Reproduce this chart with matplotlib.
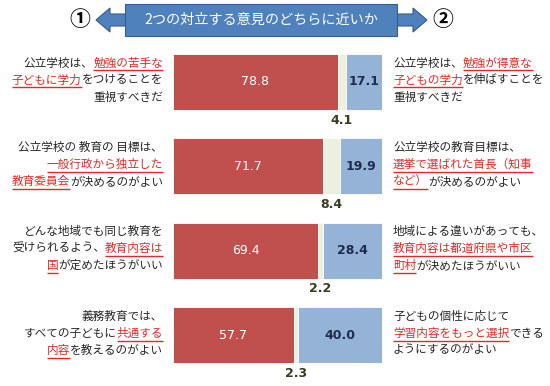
import matplotlib
matplotlib.use("Agg")
import matplotlib.pyplot as plt
from matplotlib.patches import Polygon, Rectangle

plt.rcParams['font.family'] = ['Noto Sans CJK JP', 'DejaVu Sans']

# ---------------- data ----------------
opt1 = [78.8, 71.7, 69.4, 57.7]
neutral = [4.1, 8.4, 2.2, 2.3]
opt2 = [17.1, 19.9, 28.4, 40.0]

title = "2つの対立する意見のどちらに近いか"

# each statement: list of lines, each line list of (text, highlighted)
left_text = [
    [[("公立学校は、", False), ("勉強の苦手な", True)],
     [("子どもに学力", True), ("をつけることを", False)],
     [("重視すべきだ", False)]],
    [[("公立学校の 教育の 目標は、", False)],
     [("一般行政から独立した", True)],
     [("教育委員会", True), ("が決めるのがよい", False)]],
    [[("どんな地域でも同じ教育を", False)],
     [("受けられるよう、", False), ("教育内容は", True)],
     [("国", True), ("が定めたほうがいい", False)]],
    [[("義務教育では、", False)],
     [("すべての子どもに", False), ("共通する", True)],
     [("内容", True), ("を教えるのがよい", False)]],
]
right_text = [
    [[("公立学校は、", False), ("勉強が得意な", True)],
     [("子どもの学力", True), ("を伸ばすことを", False)],
     [("重視すべきだ", False)]],
    [[("公立学校の教育目標は、", False)],
     [("選挙で選ばれた首長（知事", True)],
     [("など）", True), ("が決めるのがよい", False)]],
    [[("地域による違いがあっても、", False)],
     [("教育内容は都道府県や市区", True)],
     [("町村", True), ("が決めたほうがいい", False)]],
    [[("子どもの個性に応じて", False)],
     [("学習内容をもっと選択", True), ("できる", False)],
     [("ようにするのがよい", False)]],
]

# ---------------- styles ----------------
W, H = 550, 386
C_RED = '#C0504D'
C_MID = '#EBF1DE'
C_BLUE = '#95B3D7'
C_HL = '#E02A2A'
C_TXT = '#262626'
FS = 8.4

fig = plt.figure(figsize=(W / 100, H / 100), dpi=100)
fig.patch.set_facecolor('white')

# bar axes
ax = fig.add_axes([173 / W, 1 - 363 / H, 209 / W, 309 / H])
n = len(opt1)
ys = list(range(n))
bh = 0.664
ax.barh(ys, opt1, height=bh, color=C_RED, edgecolor='white', linewidth=0.6)
left2 = [a for a in opt1]
ax.barh(ys, neutral, left=left2, height=bh, color=C_MID, edgecolor='white', linewidth=0.6)
left3 = [a + b for a, b in zip(opt1, neutral)]
ax.barh(ys, opt2, left=left3, height=bh, color=C_BLUE, edgecolor='white', linewidth=0.6)
ax.set_xlim(0, 100)
ax.set_ylim(n - 1 + bh / 2, -bh / 2)
ax.axis('off')

for i in range(n):
    ax.text(opt1[i] / 2, i, f"{opt1[i]:.1f}", ha='center', va='center',
            color='white', fontsize=9, family='DejaVu Sans')
    ax.text(left3[i] + opt2[i] / 2, i, f"{opt2[i]:.1f}", ha='center', va='center',
            color='#1F2D4D', fontsize=9, fontweight='bold', family='DejaVu Sans')
    ax.text(opt1[i] + neutral[i] / 2, i + bh / 2 + 0.12, f"{neutral[i]:.1f}",
            ha='center', va='center', color='#333F1F', fontsize=9,
            fontweight='bold', family='DejaVu Sans', clip_on=False)

# overlay axes in pixel coordinates
ov = fig.add_axes([0, 0, 1, 1], zorder=5)
ov.set_xlim(0, W)
ov.set_ylim(H, 0)
ov.axis('off')
ov.patch.set_alpha(0)

# header double arrow
box_c = '#4F81BD'
box_e = '#385D8A'
yc = 20
arrow = [
    (96, yc), (110, yc - 12), (110, yc - 6), (413, yc - 6), (413, yc - 12),
    (427, yc), (413, yc + 12), (413, yc + 6), (110, yc + 6), (110, yc + 12)
]
ov.add_patch(Polygon(arrow, closed=True, facecolor=box_c, edgecolor=box_e, lw=0.8))
ov.add_patch(Rectangle((125, 4), 272, 32, facecolor=box_c, edgecolor=box_e, lw=0.8))
ov.text(261, yc, title, ha='center', va='center', color='white', fontsize=10.2)
ov.text(80, yc, "①", ha='center', va='center', color='black', fontsize=15, fontweight='bold')
ov.text(443, yc, "②", ha='center', va='center', color='black', fontsize=15, fontweight='bold')

fig.canvas.draw()
rend = fig.canvas.get_renderer()


def draw_line(segs, x, y, align):
    texts, widths = [], []
    for s, hl in segs:
        t = ov.text(0, y, s, color=C_HL if hl else C_TXT, fontsize=FS,
                    ha='left', va='center')
        widths.append(t.get_window_extent(rend).width)
        texts.append(t)
    total = sum(widths)
    x0 = x - total if align == 'right' else x
    for t, w, (s, hl) in zip(texts, widths, segs):
        t.set_x(x0)
        if hl:
            ov.plot([x0, x0 + w], [y + 7.5, y + 7.5], color=C_HL, lw=1.0,
                    solid_capstyle='butt')
        x0 += w


for i in range(n):
    disp_y = ax.transData.transform((0, i))[1]
    cy = H - disp_y - 2
    for k, line in enumerate(left_text[i]):
        draw_line(line, 163, cy + (k - 1) * 17, 'right')
    for k, line in enumerate(right_text[i]):
        draw_line(line, 393, cy + (k - 1) * 17, 'left')

fig.savefig("out.png", dpi=100, facecolor='white')
